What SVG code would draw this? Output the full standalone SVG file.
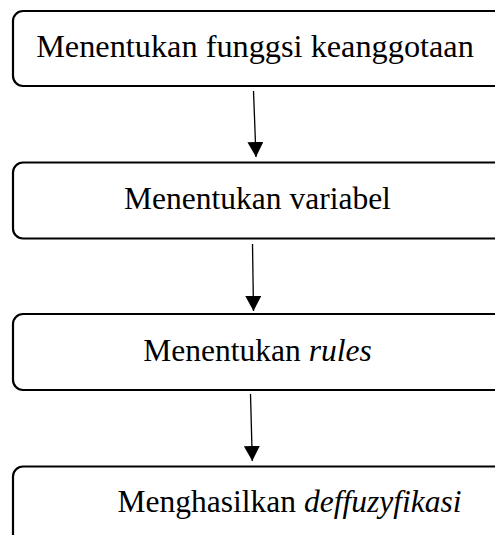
<svg xmlns="http://www.w3.org/2000/svg" width="495" height="535" viewBox="0 0 495 535">
  <style>
    .box { fill: #ffffff; stroke: #000000; stroke-width: 2.2; }
    .lbl { font-family: "Liberation Serif", "Times New Roman", serif; font-size: 31.5px; fill: #000000; text-anchor: middle; }
    .big { font-size: 32.3px; }
    .it { font-style: italic; }
    .edge { stroke: #000000; stroke-width: 1.3; fill: none; marker-end: url(#head); }
  </style>
  <defs>
    <marker id="head" markerUnits="userSpaceOnUse" markerWidth="15" markerHeight="16" refX="15" refY="8" orient="auto">
      <path d="M0,0 L15,8 L0,16 Z" fill="#000000"/>
    </marker>
  </defs>
  <rect width="495" height="535" fill="#ffffff"/>

  <g id="node-fungsi">
    <rect class="box" x="13" y="11" width="510" height="75" rx="10"/>
    <text class="lbl big" x="255" y="57">Menentukan funggsi keanggotaan</text>
  </g>

  <g id="node-variabel">
    <rect class="box" x="13" y="162.5" width="510" height="76" rx="10"/>
    <text class="lbl" x="257.5" y="209">Menentukan variabel</text>
  </g>

  <g id="node-rules">
    <rect class="box" x="13" y="314" width="510" height="76" rx="10"/>
    <text class="lbl" x="257.5" y="361">Menentukan <tspan class="it">rules</tspan></text>
  </g>

  <g id="node-deffuzyfikasi">
    <rect class="box" x="13" y="466.5" width="510" height="100" rx="10"/>
    <text class="lbl" x="289.5" y="512">Menghasilkan <tspan class="it">deffuzyfikasi</tspan></text>
  </g>

  <g id="connectors">
    <line class="edge" x1="253.5" y1="91" x2="256" y2="157"/>
    <line class="edge" x1="252.5" y1="244" x2="253.5" y2="311"/>
    <line class="edge" x1="250.5" y1="394" x2="252.3" y2="461"/>
  </g>
</svg>
